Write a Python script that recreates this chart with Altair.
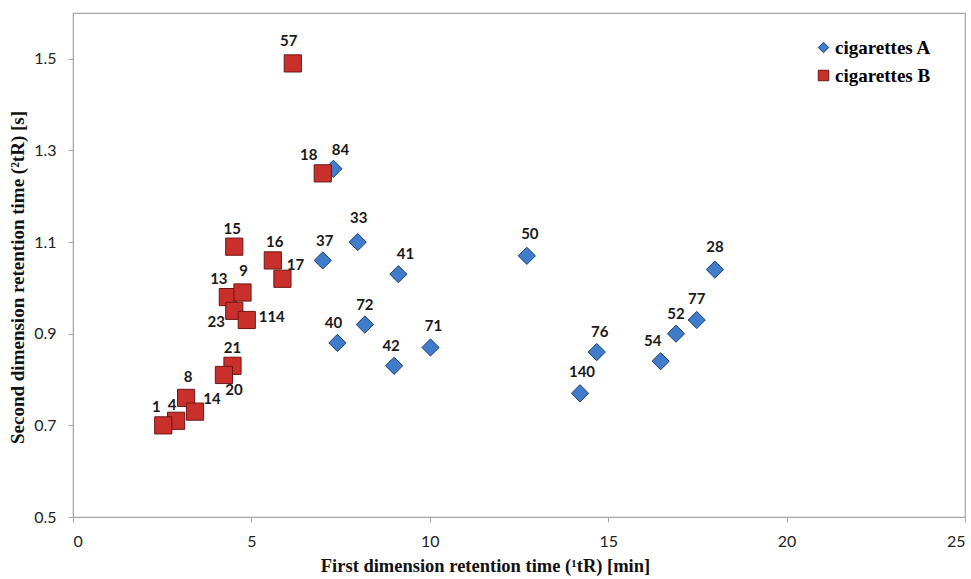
import altair as alt
import pandas as pd

# ---- data ----
labels_A = ["84", "37", "33", "41", "50", "72", "40", "42", "71", "76", "140", "54", "52", "77", "28"]
x_A = [7.30, 7.00, 7.98, 9.12, 12.72, 8.18, 7.41, 9.00, 10.02, 14.68, 14.21, 16.47, 16.90, 17.48, 17.99]
y_A = [1.26, 1.06, 1.10, 1.03, 1.07, 0.92, 0.88, 0.83, 0.87, 0.86, 0.77, 0.84, 0.90, 0.93, 1.04]

labels_B = ["57", "18", "15", "16", "17", "13", "9", "23", "114", "21", "20", "8", "14", "4", "1"]
x_B = [6.16, 7.00, 4.52, 5.60, 5.87, 4.34, 4.75, 4.52, 4.87, 4.47, 4.23, 3.17, 3.42, 2.89, 2.53]
y_B = [1.49, 1.25, 1.09, 1.06, 1.02, 0.98, 0.99, 0.95, 0.93, 0.83, 0.81, 0.76, 0.73, 0.71, 0.70]

series = ["cigarettes A", "cigarettes B"]
x_ticks = [0, 5, 10, 15, 20, 25]
y_ticks = [0.5, 0.7, 0.9, 1.1, 1.3, 1.5]

# label placement (pixel offsets of each label from its marker)
label_offsets = {
    "57": (-4, -22), "18": (-14, -18), "84": (7, -19), "15": (-2, -18), "16": (2, -18),
    "17": (13, -14), "37": (2, -19), "33": (1, -24), "13": (-9, -18), "9": (1, -21),
    "23": (-18, 11), "114": (25, -3), "21": (0, -18), "20": (10, 15), "8": (2, -21),
    "14": (17, -13), "4": (-4, -16), "1": (-7, -18), "72": (0, -20), "40": (-4, -20),
    "42": (-3, -20), "71": (3, -21), "41": (7, -20), "50": (3, -22), "76": (3, -20),
    "140": (2, -21), "54": (-8, -20), "52": (0, -20), "77": (0, -21), "28": (0, -23),
}

df = pd.concat([
    pd.DataFrame({"label": labels_A, "x": x_A, "y": y_A, "series": series[0]}),
    pd.DataFrame({"label": labels_B, "x": x_B, "y": y_B, "series": series[1]}),
], ignore_index=True)

xs = alt.Scale(domain=[0, 25], nice=False, zero=False)
ys = alt.Scale(domain=[0.5, 1.6], nice=False, zero=False)

base = alt.Chart(df)

legend = alt.Legend(title=None, orient="none", legendX=741, legendY=25,
                    labelFont="Liberation Serif", labelFontWeight="bold",
                    labelFontSize=19, labelColor="#000000", symbolSize=110,
                    rowPadding=8, symbolStrokeWidth=1, labelOffset=2)

points = base.mark_point(filled=True, opacity=1, strokeWidth=1, size=295).encode(
    x=alt.X("x:Q", scale=xs,
            axis=alt.Axis(values=x_ticks, title="First dimension retention time (¹tR) [min]",
                          format="d", titlePadding=7, titleX=412, titleFontSize=18.5)),
    y=alt.Y("y:Q", scale=ys,
            axis=alt.Axis(values=y_ticks, title="Second dimension retention time (²tR) [s]",
                          format=".1f", titlePadding=6, titleY=264, titleFontSize=19)),
    shape=alt.Shape("series:N", scale=alt.Scale(domain=series, range=["diamond", "square"]),
                    legend=legend),
    color=alt.Color("series:N", scale=alt.Scale(domain=series, range=["#3F7CCB", "#C9302C"]),
                    legend=legend),
    stroke=alt.Stroke("series:N", scale=alt.Scale(domain=series, range=["#1E3F6B", "#6E1512"]),
                      legend=legend),
)

# label layers grouped by offset
groups = {}
for lab, off in label_offsets.items():
    groups.setdefault(off, []).append(lab)

text_layers = []
for (dx, dy), labs in groups.items():
    text_layers.append(
        base.mark_text(dx=dx, dy=dy, align="center", baseline="middle", font="Lato",
                       fontWeight="bold", fontSize=15, color="#1a1a1a")
        .encode(x=alt.X("x:Q", scale=xs), y=alt.Y("y:Q", scale=ys), text="label:N")
        .transform_filter(alt.FieldOneOfPredicate(field="label", oneOf=labs))
    )

chart = alt.layer(points, *text_layers).properties(
    width=892, height=504,
    autosize=alt.AutoSizeParams(type="none"),
    padding={"left": 73, "top": 13, "right": 6, "bottom": 62},
).configure_view(
    stroke="#a6a6a6", strokeWidth=1.2
).configure_axis(
    grid=False, domainColor="#a6a6a6", tickColor="#a6a6a6", tickSize=5,
    labelFont="Lato", labelFontSize=16, labelColor="#222222", labelPadding=11,
    titleFont="Liberation Serif", titleFontWeight="bold", titleColor="#111111",
).configure_axisY(labelPadding=12)

chart.save("out.html", embed_options={"renderer": "svg", "actions": False})
